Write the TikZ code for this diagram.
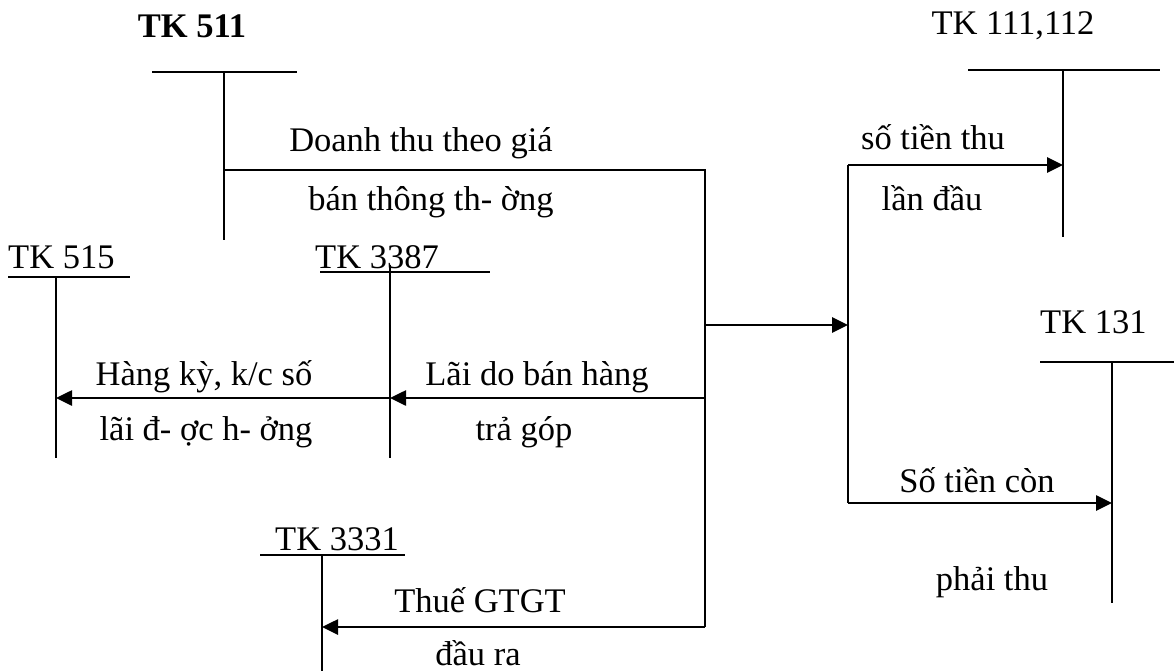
\documentclass[tikz,border=0pt]{standalone}
\usepackage{fontspec}
\setmainfont{Liberation Serif}
\usetikzlibrary{arrows.meta}
\begin{document}
\begin{tikzpicture}[x=1pt,y=-1pt,
  lbl/.style={inner sep=0pt,anchor=base,font=\fontsize{34.5}{40}\selectfont},
  lblw/.style={lbl,anchor=base west},
  tline/.style={line width=2pt},
  flow/.style={line width=2.6pt},
  flowarr/.style={flow,-{Triangle[length=16pt,width=15pt]}}]
\useasboundingbox (0,0) rectangle (1174,671);

% account titles
\node[lbl,font=\fontsize{34.5}{40}\selectfont\bfseries] (t511) at (192,38) {TK 511};
\node[lbl] (t111) at (1013,35) {TK 111,112};
\node[lblw] (t515) at (8,268) {TK 515};
\node[lblw] (t3387) at (315,268) {TK 3387};
\node[lblw] (t131) at (1040,333) {TK 131};
\node[lblw] (t3331) at (275,550) {TK 3331};

% T-account points
\coordinate (a511l) at (152,72);  \coordinate (a511r) at (297,72);
\coordinate (a511t) at (224,72);  \coordinate (a511b) at (224,240);
\coordinate (a111l) at (968,70);  \coordinate (a111r) at (1160,70);
\coordinate (a111t) at (1063,70); \coordinate (a111b) at (1063,237);
\coordinate (a515l) at (8,277);   \coordinate (a515r) at (130,277);
\coordinate (a515t) at (56,277);  \coordinate (a515b) at (56,458);
\coordinate (a3387l) at (320,272); \coordinate (a3387r) at (490,272);
\coordinate (a3387t) at (390,265); \coordinate (a3387b) at (390,458);
\coordinate (a131l) at (1040,362); \coordinate (a131r) at (1174,362);
\coordinate (a131t) at (1112,362); \coordinate (a131b) at (1112,603);
\coordinate (a3331l) at (260,555); \coordinate (a3331r) at (405,555);
\coordinate (a3331t) at (322,555); \coordinate (a3331b) at (322,671);

% T-accounts
\foreach \n in {511,111,515,3387,131,3331}{
  \draw[tline] (a\n l) -- (a\n r);
  \draw[tline] (a\n t) -- (a\n b);
}

% flow points
\coordinate (p511) at (224,170);
\coordinate (pc) at (705,170);
\coordinate (pmid) at (705,325);
\coordinate (pint) at (705,398);
\coordinate (pvat) at (705,627);
\coordinate (q) at (848,325);
\coordinate (qt) at (848,165);
\coordinate (qb) at (848,503);
\coordinate (e111) at (1063,165);
\coordinate (e131) at (1112,503);
\coordinate (e3387) at (390,398);
\coordinate (e515) at (56,398);
\coordinate (e3331) at (322,627);

% flows
\draw[flow] (p511) -- (pc) -- (pvat);
\draw[flowarr] (pmid) -- (q);
\draw[flow] (qt) -- (qb);
\draw[flowarr] (qt) -- (e111);
\draw[flowarr] (qb) -- (e131);
\draw[flowarr] (pint) -- (e3387);
\draw[flowarr] (e3387) -- (e515);
\draw[flowarr] (pvat) -- (e3331);

% flow labels
\node[lbl] (l1a) at (421,152) {Doanh thu theo giá};
\node[lbl] (l1b) at (431,210) {bán thông th- ờng};
\node[lbl] (l2a) at (933,150) {số tiền thu};
\node[lbl] (l2b) at (932,210) {lần đầu};
\node[lbl] (l3a) at (204,385) {Hàng kỳ, k/c số};
\node[lbl] (l3b) at (206,440) {lãi đ- ợc h- ởng};
\node[lbl] (l4a) at (537,385) {Lãi do bán hàng};
\node[lbl] (l4b) at (524,440) {trả góp};
\node[lbl] (l5a) at (977,492) {Số tiền còn};
\node[lbl] (l5b) at (992,590) {phải thu};
\node[lbl] (l6a) at (480,612) {Thuế GTGT};
\node[lbl] (l6b) at (478,665) {đầu ra};
\end{tikzpicture}
\end{document}
